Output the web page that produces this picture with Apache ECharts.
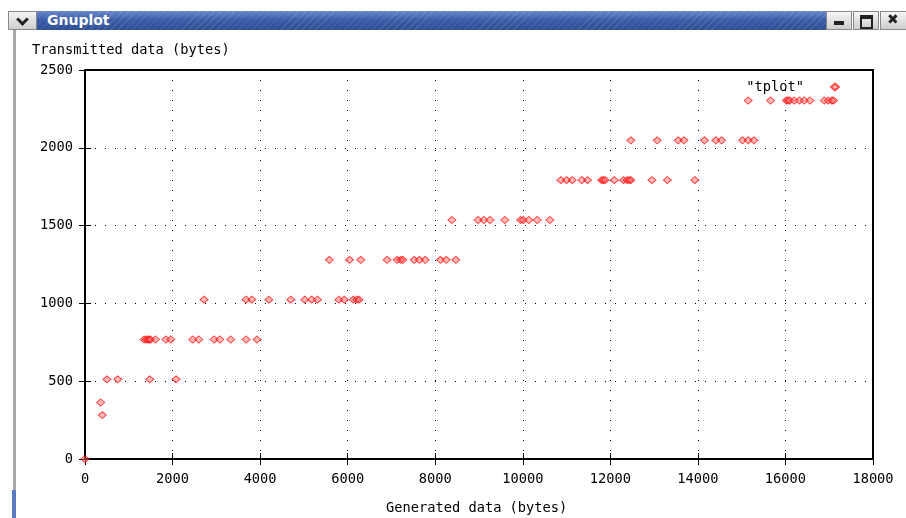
<!DOCTYPE html>
<html>
<head>
<meta charset="utf-8">
<title>Gnuplot</title>
<script src="https://cdn.jsdelivr.net/npm/echarts@6/dist/echarts.min.js"></script>
<style>
  html, body { margin: 0; padding: 0; background: #fff; }
  #wrap { position: relative; width: 906px; height: 518px; overflow: hidden; }
  #chart { position: absolute; left: 0; top: 0; width: 906px; height: 518px; }
  .bar { position: absolute; top: 11px; height: 19px; }
  #menu { left: 8px; width: 29px; background: linear-gradient(#f4f4f4, #cfcfcf); border: 1px solid #888; box-sizing: border-box; }
  #menu:after { content: ''; position: absolute; left: 9px; top: 3px; width: 6px; height: 6px;
    border-right: 3px solid #222; border-bottom: 3px solid #222; transform: rotate(45deg); }
  #titlebar { left: 37px; width: 791px;
    background: repeating-linear-gradient(135deg, rgba(255,255,255,0.10) 0 1px, rgba(255,255,255,0) 1px 5px),
                linear-gradient(#6a88cc, #3c5ea8 45%, #2f4f96);
    color: #fff; font: bold 14px "DejaVu Sans", sans-serif; line-height: 19px; padding-left: 10px; box-sizing: border-box; }
  .btn { position: absolute; top: 11px; height: 19px; width: 26px; background: linear-gradient(#f6f6f6, #cdcdcd);
    border: 1px solid #888; box-sizing: border-box; }
  #bmin { left: 826px; } #bmax { left: 853px; } #bclose { left: 880px; width: 30px; }
  #bmin:after { content: ''; position: absolute; left: 7px; top: 9px; width: 10px; height: 4px; background: #222; }
  #bmax:after { content: ''; position: absolute; left: 6px; top: 3px; width: 9px; height: 8px; border: 2px solid #222; border-top-width: 4px; }
  #bclose:after { content: '\2716'; position: absolute; left: 6px; top: -1px; font: 14px "DejaVu Sans"; color: #222; }
  #lborder { position: absolute; left: 13px; top: 30px; width: 3px; height: 460px; background: #a8a8a8; }
  #lblue { position: absolute; left: 12px; top: 490px; width: 4px; height: 28px; background: #5a7cc4; }
</style>
</head>
<body>
<div id="wrap">
  <div id="chart"></div>
  <div id="lborder"></div>
  <div id="lblue"></div>
  <div id="menu" class="bar"></div>
  <div id="titlebar" class="bar">Gnuplot</div>
  <div id="bmin" class="btn"></div>
  <div id="bmax" class="btn"></div>
  <div id="bclose" class="btn"></div>
</div>
<script>
// transmitted levels (bytes) and the generated sizes seen at each level
var levels = [0, 282, 363, 512, 768, 1024, 1280, 1536, 1792, 2048, 2304];
var gen0 = [0];
var gen282 = [395];
var gen363 = [358];
var gen512 = [500, 750, 1480, 2080];
var gen768 = [1350, 1400, 1440, 1470, 1500, 1610, 1850, 1960, 2460, 2600, 2950, 3080, 3330, 3680, 3930];
var gen1024 = [2720, 3680, 3810, 4200, 4700, 5020, 5180, 5310, 5800, 5920, 6130, 6210, 6260];
var gen1280 = [5580, 6040, 6300, 6900, 7130, 7210, 7260, 7520, 7640, 7770, 8120, 8250, 8470];
var gen1536 = [8380, 8980, 9110, 9250, 9590, 9950, 10010, 10140, 10330, 10620];
var gen1792 = [10870, 11000, 11130, 11350, 11480, 11800, 11840, 11880, 12090, 12300, 12380, 12430, 12470, 12950, 13300, 13930];
var gen2048 = [12470, 13070, 13550, 13680, 14150, 14410, 14540, 15020, 15150, 15280];
var gen2304 = [15150, 15660, 16020, 16060, 16100, 16200, 16320, 16430, 16560, 16890, 16980, 17060, 17100];
var genByLevel = [gen0, gen282, gen363, gen512, gen768, gen1024, gen1280, gen1536, gen1792, gen2048, gen2304];

var data = [];
for (var i = 0; i < levels.length; i++) {
  genByLevel[i].forEach(function (g) { data.push([g, levels[i]]); });
}

var font = 'DejaVu Sans Mono';
var plain = function (v) { return String(v); };
var dotted = { show: true, lineStyle: { color: '#000', width: 1, type: [1, 9] } };

var chart = echarts.init(document.getElementById('chart'));
chart.setOption({
  backgroundColor: '#fff',
  animation: false,
  grid: { left: 85, right: 33, top: 70, bottom: 59, show: true, borderColor: '#000', borderWidth: 2 },
  legend: {
    right: 66, top: 80, padding: 0, align: 'right',
    icon: 'diamond', itemWidth: 8, itemHeight: 7,
    textStyle: { fontFamily: font, fontSize: 13.7, color: '#000', padding: [0, 22, 0, 0] },
    data: ['"tplot"']
  },
  xAxis: [{
    type: 'value', min: 0, max: 18000, interval: 2000,
    axisLine: { lineStyle: { color: '#000', width: 2 } },
    axisTick: { inside: true, length: 6, lineStyle: { color: '#000' } },
    axisLabel: { fontFamily: font, fontSize: 13.7, color: '#000', margin: 13, formatter: plain },
    splitLine: dotted
  }, {
    type: 'value', position: 'top', min: 0, max: 18000, interval: 2000,
    axisLine: { show: true, lineStyle: { color: '#000', width: 2 } },
    axisTick: { inside: true, length: 6, lineStyle: { color: '#000' } },
    axisLabel: { show: false }, splitLine: { show: false }
  }],
  yAxis: [{
    type: 'value', min: 0, max: 2500, interval: 500,
    axisLine: { show: true, lineStyle: { color: '#000', width: 2 } },
    axisTick: { show: true, inside: true, length: 6, lineStyle: { color: '#000' } },
    axisLabel: { fontFamily: font, fontSize: 13.7, color: '#000', margin: 12, formatter: plain },
    splitLine: dotted
  }, {
    type: 'value', position: 'right', min: 0, max: 2500, interval: 500,
    axisLine: { show: true, lineStyle: { color: '#000', width: 2 } },
    axisTick: { show: true, inside: true, length: 6, lineStyle: { color: '#000' } },
    axisLabel: { show: false }, splitLine: { show: false }
  }],
  graphic: [
    { type: 'text', left: 32, top: 43, style: { text: 'Transmitted data (bytes)', font: '13.7px "DejaVu Sans Mono"', fill: '#000' } },
    { type: 'text', left: 386, top: 501, style: { text: 'Generated data (bytes)', font: '13.7px "DejaVu Sans Mono"', fill: '#000' } }
  ],
  series: [{
    name: '"tplot"',
    type: 'scatter',
    symbol: 'diamond',
    symbolSize: [8, 7],
    itemStyle: { color: 'rgba(255,110,110,0.6)', borderColor: 'rgba(255,0,0,0.85)', borderWidth: 1 },
    data: data
  }]
});
</script>
</body>
</html>
